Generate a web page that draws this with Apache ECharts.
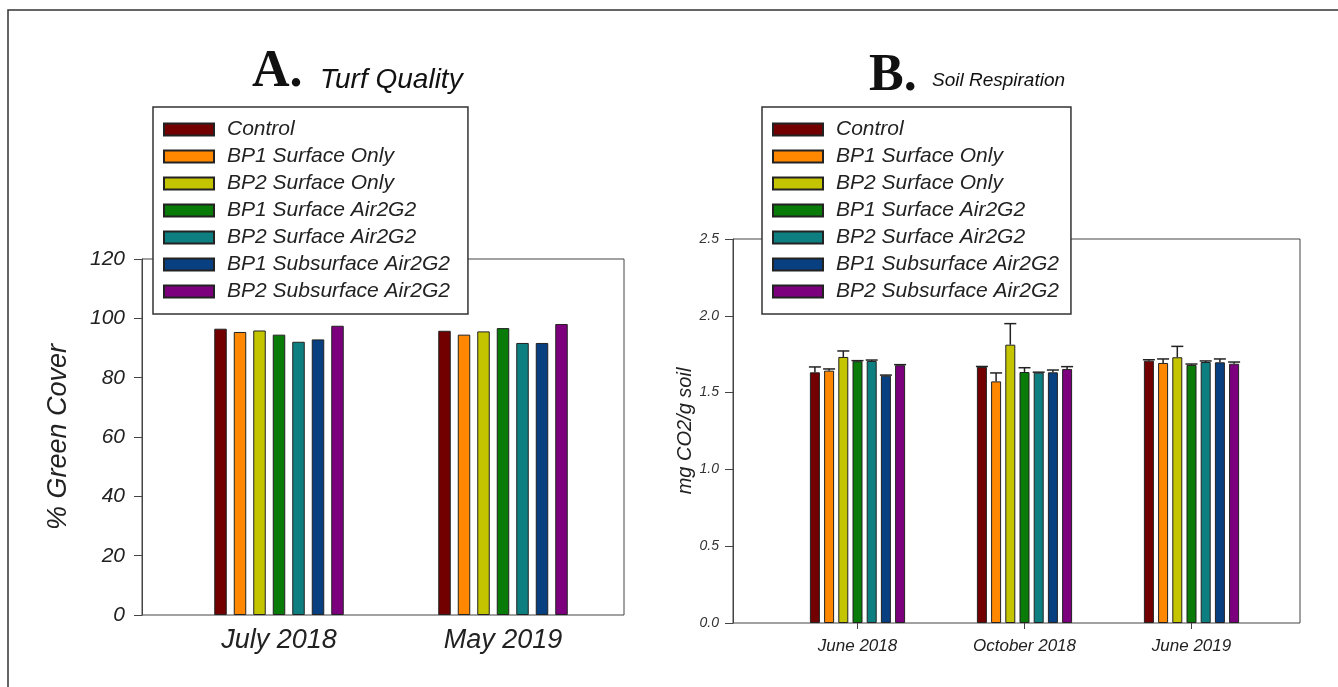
<!DOCTYPE html>
<html>
<head>
<meta charset="utf-8">
<script src="https://cdn.jsdelivr.net/npm/echarts@6/dist/echarts.min.js"></script>
<style>
  html, body { margin: 0; padding: 0; background: #fff; }
  #chart { width: 1338px; height: 687px; }
</style>
</head>
<body>
<div id="chart"></div>
<script>
// treatments (legend order)
const treatments = [
  'Control', 'BP1 Surface Only', 'BP2 Surface Only', 'BP1 Surface Air2G2',
  'BP2 Surface Air2G2', 'BP1 Subsurface Air2G2', 'BP2 Subsurface Air2G2'
];
const colors = ['#720000', '#ff8800', '#c4c400', '#087b08', '#0e7f80', '#083f80', '#7c007e'];

// A. Turf Quality (% green cover), one value per treatment
const turfDates = ['July 2018', 'May 2019'];
const turfJuly2018 = [96.5, 95.4, 95.9, 94.5, 92.1, 92.9, 97.5];
const turfMay2019 = [95.8, 94.5, 95.6, 96.7, 91.7, 91.7, 98.1];
const turfTicks = [0, 120, 20];

// B. Soil Respiration (mg CO2/g soil), means and upper error
const respDates = ['June 2018', 'October 2018', 'June 2019'];
const respJune2018 = [1.632, 1.643, 1.732, 1.704, 1.706, 1.610, 1.678];
const respOct2018 = [1.667, 1.573, 1.812, 1.634, 1.630, 1.632, 1.654];
const respJune2019 = [1.708, 1.693, 1.730, 1.680, 1.699, 1.697, 1.688];
const errJune2018 = [0.035, 0.011, 0.039, 0.004, 0.006, 0.004, 0.004];
const errOct2018 = [0.003, 0.055, 0.137, 0.028, 0.003, 0.015, 0.015];
const errJune2019 = [0.006, 0.026, 0.071, 0.006, 0.007, 0.022, 0.011];
const respTicks = [0, 2.5, 0.5];

const turfByDate = [turfJuly2018, turfMay2019];
const respByDate = [respJune2018, respOct2018, respJune2019];
const errByDate = [errJune2018, errOct2018, errJune2019];

const chart = echarts.init(document.getElementById('chart'));

const sans = 'Liberation Sans';
const serif = 'Liberation Serif';
const ink = '#222';
const barA = { w: 12.5, gap: 0.56 };
const barB = { w: 10, gap: 0.42 };

const barStyle = (i) => ({ color: colors[i], borderColor: ink, borderWidth: 1 });

const seriesA = treatments.map((name, i) => ({
  name, type: 'bar', xAxisIndex: 1, yAxisIndex: 1,
  data: turfByDate.map(d => d[i]),
  barWidth: barA.w, barGap: (barA.gap * 100) + '%',
  itemStyle: barStyle(i), emphasis: { disabled: true }
}));

const seriesB = treatments.map((name, i) => ({
  name, type: 'bar', xAxisIndex: 3, yAxisIndex: 3,
  data: respByDate.map(d => d[i]),
  barWidth: barB.w, barGap: (barB.gap * 100) + '%',
  itemStyle: barStyle(i), emphasis: { disabled: true }
}));

// error bars (upper only) for panel B
const errData = [];
respByDate.forEach((d, c) => d.forEach((v, s) => errData.push([c, s, v, errByDate[c][s]])));
const pitchB = barB.w * (1 + barB.gap);

const errSeries = {
  type: 'custom', xAxisIndex: 3, yAxisIndex: 3, z: 5,
  data: errData,
  renderItem: (params, api) => {
    const c = api.value(0), s = api.value(1), v = api.value(2), e = api.value(3);
    const x = api.coord([c, v])[0] + (s - (treatments.length - 1) / 2) * pitchB;
    const y0 = api.coord([c, v])[1];
    const y1 = api.coord([c, v + e])[1];
    const st = { stroke: ink, lineWidth: 1.5 };
    return {
      type: 'group',
      children: [
        { type: 'line', shape: { x1: x, y1: y0, x2: x, y2: y1 }, style: st },
        { type: 'line', shape: { x1: x - 6, y1: y1, x2: x + 6, y2: y1 }, style: st }
      ]
    };
  }
};

const legendBase = {
  orient: 'vertical', data: treatments,
  icon: 'rect', itemWidth: 50, itemHeight: 12, itemGap: 6,
  borderColor: '#333', borderWidth: 1.5, backgroundColor: '#fff',
  textStyle: {
    fontFamily: sans, fontStyle: 'italic', fontSize: 21, color: ink,
    lineHeight: 20, padding: [0, 0, 0, 8]
  },
  selectedMode: false, z: 10
};

const titleText = (x, y, text, font) => ({
  type: 'text', x, y,
  style: { text, font, fill: '#111', verticalAlign: 'bottom' }
});

const option = {
  animation: false,
  backgroundColor: '#fff',
  legend: [
    Object.assign({}, legendBase, { left: 153, top: 107, padding: [12, 18, 12, 10] }),
    Object.assign({}, legendBase, { left: 762, top: 107, padding: [12, 12, 12, 10] })
  ],
  grid: [
    { left: 142, top: 259, width: 482, height: 356, show: true, borderColor: '#444', borderWidth: 1 },
    { left: 167, top: 259, width: 448, height: 356 },
    { left: 733, top: 239, width: 567, height: 384, show: true, borderColor: '#444', borderWidth: 1 },
    { left: 774, top: 239, width: 501, height: 384 }
  ],
  xAxis: [
    { gridIndex: 0, type: 'value', show: false },
    {
      gridIndex: 1, type: 'category', data: turfDates,
      axisLine: { show: false }, axisTick: { show: false },
      axisLabel: { fontFamily: sans, fontStyle: 'italic', fontSize: 27, color: ink, margin: 12 }
    },
    { gridIndex: 2, type: 'value', show: false },
    {
      gridIndex: 3, type: 'category', data: respDates,
      axisLine: { show: false },
      axisTick: { show: true, alignWithLabel: true, length: 6, lineStyle: { color: '#444' } },
      axisLabel: { fontFamily: sans, fontStyle: 'italic', fontSize: 17, color: ink, margin: 15 }
    }
  ],
  yAxis: [
    {
      gridIndex: 0, type: 'value', min: turfTicks[0], max: turfTicks[1], interval: turfTicks[2],
      name: '% Green Cover', nameLocation: 'middle', nameGap: 70,
      nameTextStyle: { fontFamily: sans, fontStyle: 'italic', fontSize: 27, color: ink },
      axisLine: { show: true, lineStyle: { color: '#444' } },
      axisTick: { show: true, length: 8, lineStyle: { color: '#444' } },
      axisLabel: { fontFamily: sans, fontStyle: 'italic', fontSize: 21, color: ink, margin: 17 },
      splitLine: { show: false }
    },
    { gridIndex: 1, type: 'value', min: turfTicks[0], max: turfTicks[1], show: false, splitLine: { show: false } },
    {
      gridIndex: 2, type: 'value', min: respTicks[0], max: respTicks[1], interval: respTicks[2],
      name: 'mg CO2/g soil', nameLocation: 'middle', nameGap: 32,
      nameTextStyle: { fontFamily: sans, fontStyle: 'italic', fontSize: 20, color: ink },
      axisLine: { show: true, lineStyle: { color: '#444' } },
      axisTick: { show: true, length: 8, lineStyle: { color: '#444' } },
      axisLabel: {
        fontFamily: sans, fontStyle: 'italic', fontSize: 14, color: '#333', margin: 14,
        formatter: v => v.toFixed(1)
      },
      splitLine: { show: false }
    },
    { gridIndex: 3, type: 'value', min: respTicks[0], max: respTicks[1], show: false, splitLine: { show: false } }
  ],
  graphic: [
    // outer figure frame
    { type: 'rect', shape: { x: 8, y: 10, width: 1360, height: 700 }, style: { fill: 'none', stroke: '#333', lineWidth: 1.5 }, z: -1 },
    titleText(252, 99, 'A.', 'bold 52px "' + serif + '"'),
    titleText(320, 94, 'Turf Quality', 'italic 28px "' + sans + '"'),
    titleText(869, 103, 'B.', 'bold 52px "' + serif + '"'),
    titleText(932, 90, 'Soil Respiration', 'italic 19px "' + sans + '"')
  ],
  series: seriesA.concat(seriesB, [errSeries])
};

chart.setOption(option);
</script>
</body>
</html>
